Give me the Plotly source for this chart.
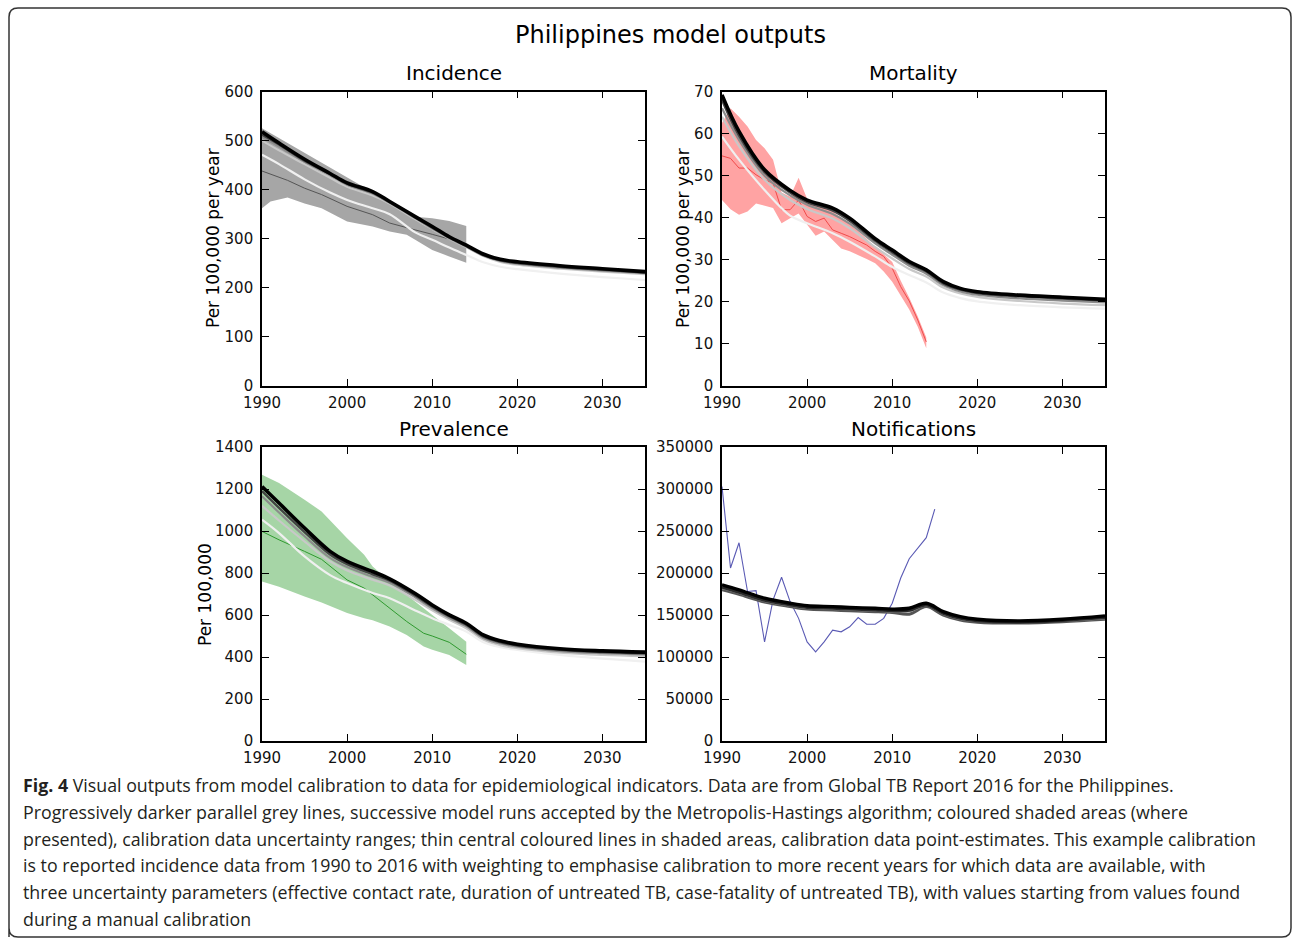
import plotly.graph_objects as go

W, H = 1292, 938

# ---------------- data ----------------
model_years = [1990, 1992, 1995, 1998, 2000, 2003, 2005, 2008, 2010, 2012, 2014, 2016, 2018, 2020, 2025, 2030, 2035]
run_colors = ["#f0f0f0", "#c8c8c8", "#8c8c8c", "#444444", "#000000"]
run_widths = [2.2, 2.2, 2.2, 2.4, 3.6]

# Incidence (per 100,000 per year)
inc_runs = [
    [471, 452, 421, 394, 379, 362, 350, 313, 298, 282, 267, 252, 243, 238, 229, 222, 216],
    [500, 480, 452, 424, 406, 388, 372, 340, 320, 300, 283, 265, 253, 247, 239, 233, 228],
    [508, 488, 457, 430, 410, 392, 373, 342, 321, 301, 284, 266, 255, 249, 241, 235, 230],
    [512, 492, 459, 432, 412, 394, 375, 344, 323, 303, 286, 267, 256, 251, 243, 237, 231],
    [518, 495, 462, 433, 414, 396, 376, 345, 325, 304, 287, 269, 258, 253, 245, 239, 233],
]
inc_data_years = [1990, 1991, 1993, 1995, 1997, 2000, 2003, 2005, 2007, 2008, 2010, 2012, 2014]
inc_low = [362, 376, 384, 372, 362, 335, 325, 315, 308, 298, 277, 264, 251]
inc_high = [525, 515, 495, 475, 455, 425, 395, 375, 355, 345, 342, 336, 326]
inc_mid = [438, 432, 419, 403, 390, 366, 349, 332, 322, 318, 309, 300, 290]

# Mortality (per 100,000 per year)
mort_runs = [
    [59.3, 53.8, 46.6, 40.5, 38.7, 36.3, 34.3, 30.8, 28.3, 26.4, 24.6, 22.2, 20.9, 20.1, 19.2, 18.7, 18.4],
    [64.0, 57.0, 49.0, 44.2, 42.1, 39.8, 37.5, 33.0, 30.3, 27.8, 26.0, 23.4, 22.0, 21.2, 20.2, 19.6, 19.2],
    [66.0, 58.5, 50.0, 45.3, 43.1, 40.9, 38.6, 33.9, 31.2, 28.6, 26.7, 24.0, 22.5, 21.7, 20.8, 20.3, 19.9],
    [68.0, 59.5, 50.8, 46.0, 43.7, 41.7, 39.3, 34.5, 31.8, 29.1, 27.2, 24.4, 22.9, 22.1, 21.3, 20.8, 20.3],
    [69.2, 60.5, 51.4, 46.5, 44.2, 42.3, 39.9, 35.0, 32.3, 29.6, 27.6, 24.8, 23.2, 22.4, 21.6, 21.1, 20.6],
]
mort_data_years = list(range(1990, 2015))
mort_high = [62.5, 66.0, 64.0, 61.7, 58.5, 56.5, 53.8, 46.0, 45.0, 49.5, 44.5, 43.5, 42.5, 41.5, 40.0,
             38.5, 36.8, 35.0, 33.0, 31.3, 29.5, 25.0, 21.0, 16.5, 11.5]
mort_mid = [54.7, 54.1, 51.8, 51.8, 50.2, 49.0, 48.2, 41.9, 41.9, 44.2, 40.3, 39.1, 39.9, 37.1, 36.3,
            35.5, 34.5, 33.5, 32.0, 30.8, 28.0, 23.6, 20.2, 15.7, 10.5]
mort_low = [44.2, 42.0, 40.7, 41.5, 43.4, 42.8, 42.3, 38.7, 39.9, 41.0, 38.3, 35.7, 36.7, 34.8, 32.7,
            32.0, 31.2, 30.2, 29.2, 27.2, 24.8, 21.6, 18.2, 14.1, 9.0]

# Prevalence (per 100,000)
prev_runs = [
    [1054, 990, 879, 790, 752, 705, 680, 622, 585, 553, 521, 470, 447, 434, 410, 392, 378],
    [1120, 1050, 950, 855, 812, 768, 740, 672, 622, 577, 537, 483, 456, 442, 421, 410, 404],
    [1165, 1088, 975, 872, 828, 782, 754, 684, 632, 586, 546, 491, 464, 449, 428, 418, 412],
    [1190, 1110, 995, 888, 842, 794, 764, 693, 641, 594, 554, 498, 471, 455, 434, 424, 418],
    [1212, 1133, 1014, 903, 855, 807, 772, 702, 648, 601, 561, 505, 477, 461, 439, 429, 423],
]
prev_data_years = [1990, 1992, 1995, 1997, 2000, 2002, 2003, 2005, 2007, 2009, 2010, 2012, 2014]
prev_high = [1268, 1228, 1149, 1093, 966, 887, 831, 760, 695, 630, 600, 537, 473]
prev_low = [760, 735, 688, 660, 609, 585, 575, 545, 505, 450, 434, 410, 362]
prev_mid = [998, 958, 903, 865, 767, 728, 696, 632, 569, 513, 500, 470, 413]

# Notifications
notif_runs = [
    [180000, 174500, 165500, 160000, 157000, 156000, 155000, 154000, 153000, 151000, 160000, 150000, 144000, 141500, 140500, 142000, 145000],
    [181500, 176000, 166500, 161000, 158000, 157000, 156000, 155000, 154000, 154000, 161000, 151000, 145000, 142500, 141000, 142800, 146000],
    [183000, 177000, 167500, 162000, 159000, 158000, 157000, 156000, 155000, 155500, 162000, 152000, 146000, 143000, 141500, 143500, 147000],
    [186000, 180000, 170000, 164000, 161000, 160000, 159000, 158000, 157000, 158000, 164000, 154000, 148000, 145000, 143000, 145000, 149000],
]
notif_colors = ["#555555", "#9a9a9a", "#2a2a2a", "#000000"]
notif_widths = [3.0, 1.6, 3.0, 3.4]
notif_data_years = list(range(1990, 2016))
notif_data = [303000, 206000, 236000, 178000, 179000, 118000, 168000, 195000, 166000, 146000,
              118000, 106000, 118000, 132000, 130000, 136000, 147000, 139000, 139000, 146000,
              164000, 194000, 217000, 230000, 242000, 276000]

x_ticks = [1990, 2000, 2010, 2020, 2030]
inc_ticks = [0, 100, 200, 300, 400, 500, 600]
mort_ticks = [0, 10, 20, 30, 40, 50, 60, 70]
prev_ticks = [0, 200, 400, 600, 800, 1000, 1200, 1400]
notif_ticks = [0, 50000, 100000, 150000, 200000, 250000, 300000, 350000]

titles = ["Incidence", "Mortality", "Prevalence", "Notifications"]
ylabels = ["Per 100,000 per year", "Per 100,000 per year", "Per 100,000", ""]
main_title = "Philippines model outputs"
caption_lines = [
    "<b>Fig. 4</b> Visual outputs from model calibration to data for epidemiological indicators. Data are from Global TB Report 2016 for the Philippines.",
    "Progressively darker parallel grey lines, successive model runs accepted by the Metropolis-Hastings algorithm; coloured shaded areas (where",
    "presented), calibration data uncertainty ranges; thin central coloured lines in shaded areas, calibration data point-estimates. This example calibration",
    "is to reported incidence data from 1990 to 2016 with weighting to emphasise calibration to more recent years for which data are available, with",
    "three uncertainty parameters (effective contact rate, duration of untreated TB, case-fatality of untreated TB), with values starting from values found",
    "during a manual calibration",
]

# ---------------- figure ----------------
def px(x):
    return x / W

def py(y):
    return 1 - y / H

fig = go.Figure()

def band(ax, xs, lo, hi, fill):
    xr = "x" if ax == 1 else f"x{ax}"
    yr = "y" if ax == 1 else f"y{ax}"
    fig.add_trace(go.Scatter(x=xs + xs[::-1], y=hi + lo[::-1], fill="toself", fillcolor=fill,
                             line=dict(width=0), mode="lines", xaxis=xr, yaxis=yr,
                             hoverinfo="skip", showlegend=False))

def line(ax, xs, ys, color, width, shape="linear"):
    xr = "x" if ax == 1 else f"x{ax}"
    yr = "y" if ax == 1 else f"y{ax}"
    fig.add_trace(go.Scatter(x=xs, y=ys, mode="lines", line=dict(color=color, width=width, shape=shape),
                             xaxis=xr, yaxis=yr, showlegend=False))

# Incidence
band(1, inc_data_years, inc_low, inc_high, "#a6a6a6")
line(1, inc_data_years, inc_mid, "#555555", 1)
for r, c, w in zip(inc_runs, run_colors, run_widths):
    line(1, model_years, r, c, w, "spline")

# Mortality
band(2, mort_data_years, mort_low, mort_high, "#ffa3a3")
line(2, mort_data_years, mort_mid, "#f04a4a", 1)
for r, c, w in zip(mort_runs, run_colors, run_widths):
    line(2, model_years, r, c, w, "spline")

# Prevalence
band(3, prev_data_years, prev_low, prev_high, "#a6d5a6")
line(3, prev_data_years, prev_mid, "#2f9a2f", 1)
for r, c, w in zip(prev_runs, run_colors, run_widths):
    line(3, model_years, r, c, w, "spline")

# Notifications
line(4, notif_data_years, notif_data, "#5a5ab4", 1.1)
for r, c, w in zip(notif_runs, notif_colors, notif_widths):
    line(4, model_years, r, c, w, "spline")

# axes geometry (pixels)
xdom_left = [px(262), px(645)]
xdom_right = [px(722), px(1105)]
ydom_top = [py(386), py(91.5)]
ydom_bot = [py(741), py(447)]

tickfont = dict(family="DejaVu Sans", size=15, color="#111111")
common_x = dict(range=[1990, 2035], tickvals=x_ticks, ticks="inside", ticklen=7, tickwidth=1.2,
                tickcolor="black", showline=True, linecolor="black", linewidth=1.6, mirror="ticks",
                showgrid=False, zeroline=False, tickfont=tickfont, ticklabelstandoff=2,
                automargin=False)
common_y = dict(ticks="inside", ticklen=7, tickwidth=1.2, tickcolor="black", showline=True,
                linecolor="black", linewidth=1.6, mirror="ticks", showgrid=False, zeroline=False,
                tickfont=tickfont, ticklabelstandoff=4, automargin=False)

layout_axes = {}
specs = [
    (1, xdom_left, ydom_top, [0, 600], inc_ticks),
    (2, xdom_right, ydom_top, [0, 70], mort_ticks),
    (3, xdom_left, ydom_bot, [0, 1400], prev_ticks),
    (4, xdom_right, ydom_bot, [0, 350000], notif_ticks),
]
for ax, xd, yd, yr, yt in specs:
    xname = "xaxis" if ax == 1 else f"xaxis{ax}"
    yname = "yaxis" if ax == 1 else f"yaxis{ax}"
    layout_axes[xname] = dict(common_x, domain=xd, anchor="y" if ax == 1 else f"y{ax}")
    layout_axes[yname] = dict(common_y, domain=yd, range=yr, tickvals=yt,
                              ticktext=[str(v) for v in yt],
                              anchor="x" if ax == 1 else f"x{ax}")

annotations = []
# main title
annotations.append(dict(text=main_title, x=px(670), y=py(35), xref="paper", yref="paper",
                        showarrow=False, font=dict(family="DejaVu Sans", size=24, color="black"),
                        xanchor="center", yanchor="middle"))
# subplot titles
for t, cx, cy in zip(titles, [453.5, 913.5, 453.5, 913.5], [73, 73, 429, 429]):
    annotations.append(dict(text=t, x=px(cx), y=py(cy), xref="paper", yref="paper", showarrow=False,
                            font=dict(family="DejaVu Sans", size=20, color="black"),
                            xanchor="center", yanchor="middle"))
# y labels
for t, cx, cy in zip(ylabels, [213, 683, 205], [238, 238, 595]):
    annotations.append(dict(text=t, x=px(cx), y=py(cy), xref="paper", yref="paper", showarrow=False,
                            textangle=-90, font=dict(family="DejaVu Sans", size=17, color="black"),
                            xanchor="center", yanchor="middle"))
# caption
for i, t in enumerate(caption_lines):
    annotations.append(dict(text=t, x=px(21), y=py(785 + i * 26.8), xref="paper", yref="paper",
                            showarrow=False, align="left",
                            font=dict(family="Open Sans", size=17.8, color="#231f20"),
                            xanchor="left", yanchor="middle"))

# rounded frame
x0, y0, x1, y1, r = 9, 8, 1291, 937, 9
path = (f"M {px(x0)},{py(y1)} L {px(x0)},{py(y0 + r)} Q {px(x0)},{py(y0)} {px(x0 + r)},{py(y0)} "
        f"L {px(x1 - r)},{py(y0)} Q {px(x1)},{py(y0)} {px(x1)},{py(y0 + r)} "
        f"L {px(x1)},{py(y1 - r)} Q {px(x1)},{py(y1)} {px(x1 - r)},{py(y1)} "
        f"L {px(x0 + r)},{py(y1)} Q {px(x0)},{py(y1)} {px(x0)},{py(y1 - r)}")
shapes = [dict(type="path", path=path, xref="paper", yref="paper",
               line=dict(color="#333333", width=1.5))]

fig.update_layout(width=W, height=H, autosize=False, margin=dict(l=0, r=0, t=0, b=0, pad=0),
                  paper_bgcolor="white", plot_bgcolor="white",
                  annotations=annotations, shapes=shapes, showlegend=False, **layout_axes)

fig.write_html("out.html",
               config=dict(displayModeBar=False),
               post_script="document.body.style.margin='0';document.body.style.padding='0';"
                           "document.documentElement.style.overflow='hidden';")
